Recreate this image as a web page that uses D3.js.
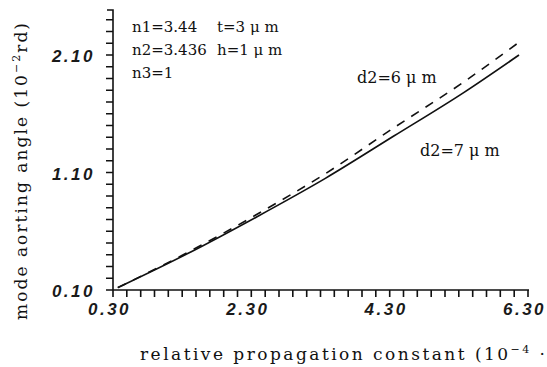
<!DOCTYPE html>
<html>
<head>
<meta charset="utf-8">
<script src="https://cdn.jsdelivr.net/npm/d3@7"></script>
<style>
  body { margin: 0; background: #fff; }
  .tk text { font-family: "Liberation Sans", sans-serif; font-style: italic; font-weight: bold; font-size: 17px; fill: #1a1a1a; letter-spacing: 2.5px; }
  .lab { font-family: "DejaVu Serif", serif; fill: #111; }
</style>
</head>
<body>
<svg width="547" height="367"></svg>
<script>
// d2 = 7 um (solid)
const solidX = [0.37, 1.38, 2.37, 3.37, 4.36, 5.37, 6.17];
const solidY = [0.12, 0.41, 0.72, 1.05, 1.41, 1.78, 2.10];
// d2 = 6 um (dashed)
const dashX = [0.37, 1.38, 2.37, 3.37, 4.36, 5.37, 6.15];
const dashY = [0.12, 0.42, 0.74, 1.09, 1.48, 1.87, 2.20];

const xTicks = [0.30, 2.30, 4.30, 6.30];
const yTicks = [0.10, 1.10, 2.10];

let svg = d3.select("svg");

let x = d3.scaleLinear().domain([0.30, 6.30]).range([113, 528]);
let y = d3.scaleLinear().domain([0.10, 2.10]).range([290, 55]);

let xMinor = d3.range(0, 31).map(i => 0.30 + i * 0.2);
let yMinor = d3.range(0, 24).map(i => 0.10 + i * 0.1);

// axes (labels from d3, ticks drawn below)
let gx = svg.append("g").attr("class", "tk").attr("transform", "translate(0,290)")
  .call(d3.axisBottom(x).tickValues(xTicks).tickFormat(d3.format(".2f")).tickSize(0).tickPadding(13));
gx.select(".domain").remove();
gx.selectAll(".tick text").attr("dy", "0.71em").attr("dx", "-4");

let gy = svg.append("g").attr("class", "tk").attr("transform", "translate(113,0)")
  .call(d3.axisLeft(y).tickValues(yTicks).tickFormat(d3.format(".2f")).tickSize(0).tickPadding(18));
gy.select(".domain").remove();
gy.selectAll(".tick text").attr("dy", "0.4em");

// axis lines and tick marks as one path
let tickPath = "M106,290H529M113,297V10H107"
  + xMinor.map(v => "M" + x(v).toFixed(1) + ",290V297").join("")
  + yMinor.map(v => "M113," + y(v).toFixed(1) + "H106").join("");

svg.append("path")
  .attr("d", tickPath)
  .attr("fill", "none")
  .attr("stroke", "#111")
  .attr("stroke-width", 1.6);

// curves
let line = d3.line().x(d => x(d[0])).y(d => y(d[1])).curve(d3.curveMonotoneX);

svg.append("path")
  .datum(d3.zip(solidX, solidY))
  .attr("d", line)
  .attr("fill", "none").attr("stroke", "#111").attr("stroke-width", 1.7);

svg.append("path")
  .datum(d3.zip(dashX, dashY))
  .attr("d", line)
  .attr("fill", "none").attr("stroke", "#111").attr("stroke-width", 1.6)
  .attr("stroke-dasharray", "9,8");

// annotations
let note = (t, px, py, fs) => svg.append("text").attr("class", "lab")
  .attr("x", px).attr("y", py).attr("font-size", fs).text(t);
note("n1=3.44", 132, 32, 15);
note("t=3 μ m", 217, 32, 15);
note("n2=3.436", 132, 55, 15);
note("h=1 μ m", 217, 55, 15);
note("n3=1", 132, 78, 15);
note("d2=6 μ m", 357, 83, 16);
note("d2=7 μ m", 420, 156, 16);

// axis titles
svg.append("text").attr("class", "lab").attr("font-size", 17)
  .attr("x", 140).attr("y", 360)
  .attr("textLength", 405).attr("lengthAdjust", "spacing")
  .html("relative propagation constant (10<tspan dy='-7' font-size='11'>−4</tspan><tspan dy='7'> ·</tspan>");

svg.append("text").attr("class", "lab").attr("font-size", 17)
  .attr("transform", "translate(27,320) rotate(-90)")
  .attr("textLength", 297).attr("lengthAdjust", "spacing")
  .html("mode aorting angle (10<tspan dy='-7' font-size='11'>−2</tspan><tspan dy='7'>rd)</tspan>");
</script>
</body>
</html>
